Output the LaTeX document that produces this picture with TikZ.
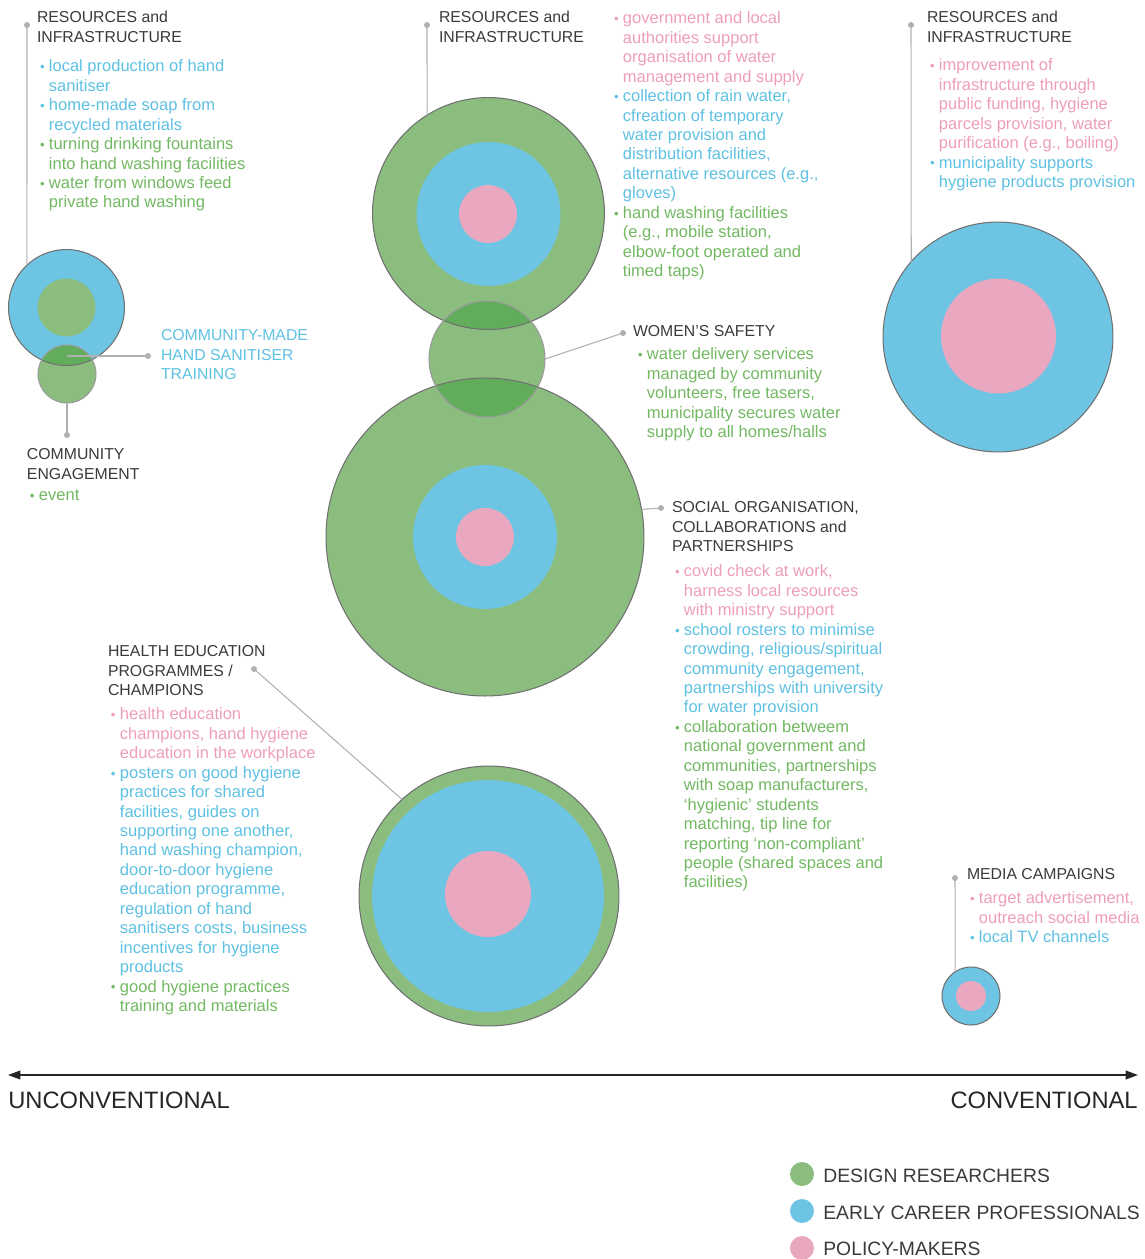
\documentclass[tikz,border=0pt]{standalone}
\usepackage{fontspec}
\setmainfont{Liberation Sans}
\usepackage{graphicx}
\usetikzlibrary{arrows.meta}
\definecolor{cg}{HTML}{8BBE7E}
\definecolor{cb}{HTML}{6DC5E3}
\definecolor{cp}{HTML}{EAA7C0}
\definecolor{cdg}{HTML}{61AD5C}
\definecolor{tg}{HTML}{72B862}
\definecolor{tb}{HTML}{5EC0E2}
\definecolor{tp}{HTML}{EE9DBB}
\definecolor{hd}{HTML}{3A3A3A}
\definecolor{ol}{HTML}{707070}
\definecolor{olw}{HTML}{9A9A9A}
\definecolor{ln}{HTML}{B0B0B0}
\newcommand\bdot{\makebox[5.1pt][l]{\raisebox{0.1pt}{\scalebox{0.8}{•}}}}
\newcommand\Bi[2]{\textcolor{#1}{\bdot}&\textcolor{#1}{#2}\\}
\newcommand\Ci[2]{&\textcolor{#1}{#2}\\}
\newcommand\hblk[1]{\begin{tabular}{@{}l@{}}#1\end{tabular}}
\newcommand\bblk[1]{\begin{tabular}{@{}l@{}l@{}}#1\end{tabular}}
\begin{document}
\begin{tikzpicture}[x=0.02cm,y=-0.02cm,
  disc/.style={circle,inner sep=0pt,outer sep=0pt,minimum size=#1*0.04cm},
  outl/.style={draw=ol,line width=0.6pt},
  lead/.style={draw=ln,line width=0.6pt},
  dot/.style={circle,fill=ln,inner sep=0pt,outer sep=0pt,minimum size=3.4pt},
  txt/.style={inner sep=0pt,outer sep=0pt,anchor=north west,font=\fontsize{9.4}{11.06}\selectfont},
  hdr/.style={txt,text=hd,font=\fontsize{9.0}{11.06}\selectfont},
  leg/.style={inner sep=0pt,anchor=base west,text=hd,font=\fontsize{11}{13}\selectfont},
  axl/.style={inner sep=0pt,text=black!85,font=\fontsize{13.5}{16}\selectfont}]
\useasboundingbox (0,0) rectangle (1144,1259);

% ---------- left cluster
\node[disc=58,fill=cb] (LB) at (66.5,307.5) {};
\node[disc=29,fill=cg] (LBi) at (66.5,307.5) {};
\node[disc=29,fill=cg] (LG) at (67,374) {};
\begin{scope}
  \clip (LB.center) circle[radius=1.16cm];
  \fill[cdg] (LG.center) circle[radius=0.58cm];
\end{scope}
\draw[outl] (LB.center) circle[radius=1.16cm];
\draw[draw=olw,line width=0.6pt] (LG.center) circle[radius=0.58cm];

% ---------- centre column
\node[disc=116,fill=cg] (T) at (488.5,213.5) {};
\node[disc=72,fill=cb] (Tb) at (488.5,214) {};
\node[disc=29,fill=cp] (Tp) at (488,214) {};
\node[disc=159,fill=cg] (B) at (485,537) {};
\node[disc=72,fill=cb] (Bb) at (485,537) {};
\node[disc=29,fill=cp] (Bp) at (485,537) {};
\node[disc=58,fill=cg] (W) at (487,359) {};
\begin{scope}
  \clip (T.center) circle[radius=2.32cm];
  \fill[cdg] (W.center) circle[radius=1.16cm];
\end{scope}
\begin{scope}
  \clip (B.center) circle[radius=3.18cm];
  \fill[cdg] (W.center) circle[radius=1.16cm];
\end{scope}
\draw[outl] (T.center) circle[radius=2.32cm];
\draw[outl] (B.center) circle[radius=3.18cm];
\draw[draw=olw,line width=0.6pt] (W.center) circle[radius=1.16cm];

\node[disc=130,fill=cg,draw=ol,line width=0.6pt] (H) at (489,896) {};
\node[disc=116,fill=cb] (Hb) at (488,896) {};
\node[disc=43,fill=cp] (Hp) at (488,894) {};

% ---------- right
\node[disc=115,fill=cb,draw=ol,line width=0.6pt] (R) at (998,337) {};
\node[disc=57.5,fill=cp] (Rp) at (998.5,336) {};
\node[disc=29,fill=cb,draw=ol,line width=0.6pt] (M) at (971,996) {};
\node[disc=15,fill=cp] (Mp) at (971,996) {};

% ---------- leader lines
\node[dot] (d1) at (27,25) {};
\draw[lead] (d1.center) -- (LB.133);
\coordinate (lh) at (67,356);
\node[dot] (d2) at (148,356) {};
\draw[lead] (lh) -- (d2.center);
\node[dot] (d3) at (67,435) {};
\draw[lead] (LG.south) -- (d3.center);
\node[dot] (d4) at (427,25) {};
\draw[lead] (d4.center) -- (T.122);
\node[dot] (d5) at (623,333) {};
\draw[lead] (W.east) -- (d5.center);
\node[dot] (d6) at (661,508) {};
\draw[lead] (B.10.5) -- (d6.center);
\node[dot] (d7) at (254,669) {};
\draw[lead] (d7.center) -- (H.132);
\node[dot] (d8) at (911,25) {};
\draw[lead] (d8.center) -- (R.139);
\node[dot] (d9) at (955,878) {};
\draw[lead] (d9.center) -- (M.123.5);

% ---------- texts: left
\node[hdr] (hA) at (37,9.35) {\hblk{RESOURCES and\\INFRASTRUCTURE}};
\node[txt] (bA) at (40,58.35) {\bblk{%
\Bi{tb}{local production of hand}\Ci{tb}{sanitiser}%
\Bi{tb}{home-made soap from}\Ci{tb}{recycled materials}%
\Bi{tg}{turning drinking fountains}\Ci{tg}{into hand washing facilities}%
\Bi{tg}{water from windows feed}\Ci{tg}{private hand washing}}};
\node[hdr,text=tb] (hC) at (161,327.35) {\hblk{COMMUNITY-MADE\\HAND SANITISER\\TRAINING}};
\node[hdr] (hD) at (27,446.35) {\hblk{COMMUNITY\\ENGAGEMENT}};
\node[txt] (bD) at (30,487.35) {\bblk{\Bi{tg}{event}}};

% ---------- texts: centre top
\node[hdr] (hE) at (439,9.35) {\hblk{RESOURCES and\\INFRASTRUCTURE}};
\node[txt] (bF) at (614,10.35) {\bblk{%
\Bi{tp}{government and local}\Ci{tp}{authorities support}\Ci{tp}{organisation of water}\Ci{tp}{management and supply}%
\Bi{tb}{collection of rain water,}\Ci{tb}{cfreation of temporary}\Ci{tb}{water provision and}\Ci{tb}{distribution facilities,}\Ci{tb}{alternative resources (e.g.,}\Ci{tb}{gloves)}%
\Bi{tg}{hand washing facilities}\Ci{tg}{(e.g., mobile station,}\Ci{tg}{elbow-foot operated and}\Ci{tg}{timed taps)}}};

% ---------- women's safety
\node[hdr] (hG) at (633,323.35) {\hblk{WOMEN’S SAFETY}};
\node[txt] (bG) at (638,346.35) {\bblk{%
\Bi{tg}{water delivery services}\Ci{tg}{managed by community}\Ci{tg}{volunteers, free tasers,}\Ci{tg}{municipality secures water}\Ci{tg}{supply to all homes/halls}}};

% ---------- social organisation
\node[hdr] (hH) at (672,499.35) {\hblk{SOCIAL ORGANISATION,\\COLLABORATIONS and\\PARTNERSHIPS}};
\node[txt] (bH) at (675,563.35) {\bblk{%
\Bi{tp}{covid check at work,}\Ci{tp}{harness local resources}\Ci{tp}{with ministry support}%
\Bi{tb}{school rosters to minimise}\Ci{tb}{crowding, religious/spiritual}\Ci{tb}{community engagement,}\Ci{tb}{partnerships with university}\Ci{tb}{for water provision}%
\Bi{tg}{collaboration betweem}\Ci{tg}{national government and}\Ci{tg}{communities, partnerships}\Ci{tg}{with soap manufacturers,}\Ci{tg}{‘hygienic’ students}\Ci{tg}{matching, tip line for}\Ci{tg}{reporting ‘non-compliant’}\Ci{tg}{people (shared spaces and}\Ci{tg}{facilities)}}};

% ---------- health education
\node[hdr] (hI) at (108,643.35) {\hblk{HEALTH EDUCATION\\PROGRAMMES /\\CHAMPIONS}};
\node[txt] (bI) at (111,706.35) {\bblk{%
\Bi{tp}{health education}\Ci{tp}{champions, hand hygiene}\Ci{tp}{education in the workplace}%
\Bi{tb}{posters on good hygiene}\Ci{tb}{practices for shared}\Ci{tb}{facilities, guides on}\Ci{tb}{supporting one another,}\Ci{tb}{hand washing champion,}\Ci{tb}{door-to-door hygiene}\Ci{tb}{education programme,}\Ci{tb}{regulation of hand}\Ci{tb}{sanitisers costs, business}\Ci{tb}{incentives for hygiene}\Ci{tb}{products}%
\Bi{tg}{good hygiene practices}\Ci{tg}{training and materials}}};

% ---------- right texts
\node[hdr] (hJ) at (927,9.35) {\hblk{RESOURCES and\\INFRASTRUCTURE}};
\node[txt] (bJ) at (930,57.35) {\bblk{%
\Bi{tp}{improvement of}\Ci{tp}{infrastructure through}\Ci{tp}{public funding, hygiene}\Ci{tp}{parcels provision, water}\Ci{tp}{purification (e.g., boiling)}%
\Bi{tb}{municipality supports}\Ci{tb}{hygiene products provision}}};
\node[hdr] (hK) at (967,866.35) {\hblk{MEDIA CAMPAIGNS}};
\node[txt] (bK) at (970,890.35) {\bblk{%
\Bi{tp}{target advertisement,}\Ci{tp}{outreach social media}%
\Bi{tb}{local TV channels}}};

% ---------- axis
\coordinate (axL) at (8,1075);
\coordinate (axR) at (1138,1075);
\draw[line width=0.8pt,black!85,{Triangle[length=7pt,width=5pt]}-{Triangle[length=7pt,width=5pt]}] (axL) -- (axR);
\node[axl,anchor=base west] (uc) at (8,1108.5) {UNCONVENTIONAL};
\node[axl,anchor=base east] (cv) at (1138,1108.5) {CONVENTIONAL};

% ---------- legend
\node[disc=12,fill=cg] (lg1) at (802,1174) {};
\node[disc=12,fill=cb] (lg2) at (802,1211) {};
\node[disc=12,fill=cp] (lg3) at (802,1248) {};
\node[leg] (lt1) at (823,1182) {DESIGN RESEARCHERS};
\node[leg] (lt2) at (823,1219) {EARLY CAREER PROFESSIONALS};
\node[leg] (lt3) at (823,1255) {POLICY-MAKERS};
\end{tikzpicture}
\end{document}
